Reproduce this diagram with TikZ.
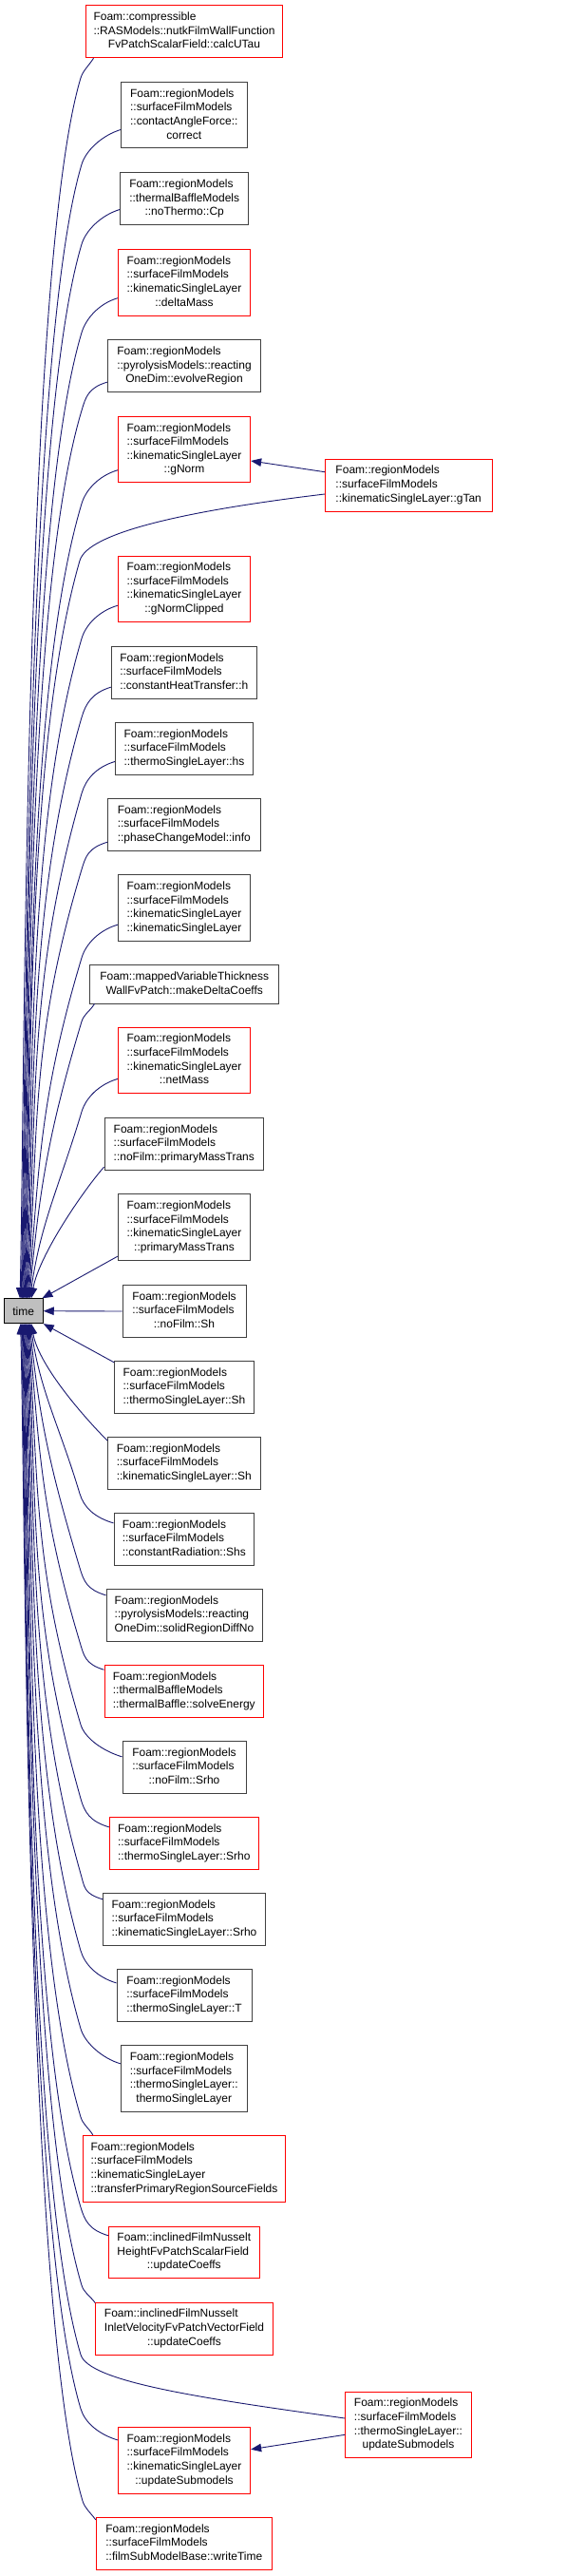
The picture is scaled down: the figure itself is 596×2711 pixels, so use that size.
\documentclass[tikz,border=0pt]{standalone}
\usepackage{fontspec}
\setmainfont{Liberation Sans}
\usetikzlibrary{calc,arrows.meta}
\definecolor{edgecol}{HTML}{191970}
\definecolor{boxgray}{HTML}{404040}
\definecolor{timefill}{HTML}{BFBFBF}
\newcommand{\lbl}[2]{\begin{tabular}{@{}l@{}}#1\\\multicolumn{1}{@{}c@{}}{#2}\end{tabular}}
% #1 start, #2 bend, #3 end, #4 start control offset, #5 bend control distance
\newcommand{\conn}[5]{%
  \draw[cl] let \p1=#1, \p2=#2, \p3=#3,
     \n5={min(0.4*abs(\y3-\y2),200pt)},
     \n6={(\y3-\y2)/abs(\y3-\y2)},
     \n1={max(\x3,\x2-0.3*\n5)},
     \n2={\y2+\n6*\n5},
     \n3={\y3-\n6*\n5},
     \n7={\x3+0.5*(\x2-\x3)*\n5/abs(\y3-\y2)},
     \n4={veclen(\n1-\x2,\n2-\y2)} in
   (\p1) .. controls ($(\p1)+#4$) and ({\x2-#5*(\n1-\x2)/\n4},{\y2-#5*(\n2-\y2)/\n4}) .. (\p2)
   .. controls (\n1,\n2) and (\n7,\n3) .. (\p3);}
\tikzset{
  box/.style={draw=boxgray, line width=0.9pt, fill=white, inner sep=0pt, font=\fontsize{12}{14.6}\selectfont},
  rbox/.style={box, draw=red},
  cl/.style={color=edgecol, line width=0.9pt, -{Triangle[length=11pt,width=8.5pt]}},
}
\begin{document}
\begin{tikzpicture}[x=1pt,y=1pt]
\fill[white] (0,0) rectangle (596,-2711);
\useasboundingbox (0,0) rectangle (596,-2711);

\def\FR{Foam::regionModels}
\def\SF{::surfaceFilmModels}
% nodes
\node[rbox, minimum width=206.6pt, minimum height=55pt] (n1) at (194,-33.2) {\lbl{Foam::compressible\\::RASModels::nutkFilmWallFunction}{FvPatchScalarField::calcUTau}};
\node[box, minimum width=132.3pt, minimum height=69pt] (n2) at (193.8,-121.2) {\lbl{\FR\\\SF\\::contactAngleForce::}{correct}};
\node[box, minimum width=135pt, minimum height=55pt] (n3) at (194.2,-209.2) {\lbl{\FR\\::thermalBaffleModels}{::noThermo::Cp}};
\node[rbox, minimum width=139.4pt, minimum height=69.3pt] (n4) at (194,-297.3) {\lbl{\FR\\\SF\\::kinematicSingleLayer}{::deltaMass}};
\node[box, minimum width=161.4pt, minimum height=55pt] (n5) at (194,-385.2) {\lbl{\FR\\::pyrolysisModels::reacting}{OneDim::evolveRegion}};
\node[rbox, minimum width=139.4pt, minimum height=69.4pt] (n6) at (194,-473) {\lbl{\FR\\\SF\\::kinematicSingleLayer}{::gNorm}};
\node[rbox, minimum width=175.7pt, minimum height=55pt] (n7) at (430.2,-510.5) {\lbl{\FR\\\SF}{::kinematicSingleLayer::gTan}};
\node[rbox, minimum width=139.4pt, minimum height=69.3pt] (n8) at (194,-619.7) {\lbl{\FR\\\SF\\::kinematicSingleLayer}{::gNormClipped}};
\node[box, minimum width=153pt, minimum height=55pt] (n9) at (193.8,-707.8) {\lbl{\FR\\\SF}{::constantHeatTransfer::h}};
\node[box, minimum width=145.4pt, minimum height=54.7pt] (n10) at (194,-787.7) {\lbl{\FR\\\SF}{::thermoSingleLayer::hs}};
\node[box, minimum width=160.3pt, minimum height=54.7pt] (n11) at (193.8,-867.7) {\lbl{\FR\\\SF}{::phaseChangeModel::info}};
\node[box, minimum width=139.4pt, minimum height=70pt] (n12) at (194,-955.7) {\lbl{\FR\\\SF\\::kinematicSingleLayer}{::kinematicSingleLayer}};
\node[box, minimum width=199pt, minimum height=40.3pt] (n13) at (194.2,-1035.8) {\lbl{Foam::mappedVariableThickness}{WallFvPatch::makeDeltaCoeffs}};
\node[rbox, minimum width=139.4pt, minimum height=69.7pt] (n14) at (194,-1115.8) {\lbl{\FR\\\SF\\::kinematicSingleLayer}{::netMass}};
\node[box, minimum width=167.7pt, minimum height=55.4pt] (n15) at (193.8,-1204) {\lbl{\FR\\\SF}{::noFilm::primaryMassTrans}};
\node[box, minimum width=139.4pt, minimum height=70pt] (n16) at (194,-1291.7) {\lbl{\FR\\\SF\\::kinematicSingleLayer}{::primaryMassTrans}};
\node[box, minimum width=130pt, minimum height=54.6pt] (n17) at (194,-1380) {\lbl{\FR\\\SF}{::noFilm::Sh}};
\node[box, draw=black, fill=timefill, minimum width=41.3pt, minimum height=26pt] (time) at (24.65,-1379.7) {time};
\node[box, minimum width=146.6pt, minimum height=55pt] (n18) at (194,-1459.8) {\lbl{\FR\\\SF}{::thermoSingleLayer::Sh}};
\node[box, minimum width=160.3pt, minimum height=54.6pt] (n19) at (193.8,-1540) {\lbl{\FR\\\SF}{::kinematicSingleLayer::Sh}};
\node[box, minimum width=147.7pt, minimum height=54.7pt] (n20) at (193.8,-1619.7) {\lbl{\FR\\\SF}{::constantRadiation::Shs}};
\node[box, minimum width=164pt, minimum height=55pt] (n21) at (194,-1699.8) {\lbl{\FR\\::pyrolysisModels::reacting}{OneDim::solidRegionDiffNo}};
\node[rbox, minimum width=167.7pt, minimum height=55pt] (n22) at (193.8,-1779.8) {\lbl{\FR\\::thermalBaffleModels}{::thermalBaffle::solveEnergy}};
\node[box, minimum width=130pt, minimum height=55pt] (n23) at (194,-1859.8) {\lbl{\FR\\\SF}{::noFilm::Srho}};
\node[rbox, minimum width=157pt, minimum height=55pt] (n24) at (193.8,-1939.8) {\lbl{\FR\\\SF}{::thermoSingleLayer::Srho}};
\node[box, minimum width=170.6pt, minimum height=55pt] (n25) at (194,-2019.8) {\lbl{\FR\\\SF}{::kinematicSingleLayer::Srho}};
\node[box, minimum width=142pt, minimum height=54.7pt] (n26) at (194,-2099.7) {\lbl{\FR\\\SF}{::thermoSingleLayer::T}};
\node[box, minimum width=133pt, minimum height=70pt] (n27) at (193.8,-2187.7) {\lbl{\FR\\\SF\\::thermoSingleLayer::}{thermoSingleLayer}};
\node[rbox, minimum width=213.4pt, minimum height=70pt] (n28) at (194,-2282.3) {\lbl{\FR\\\SF\\::kinematicSingleLayer}{::transferPrimaryRegionSourceFields}};
\node[rbox, minimum width=158.3pt, minimum height=54.7pt] (n29) at (193.8,-2370.3) {\lbl{Foam::inclinedFilmNusselt\\HeightFvPatchScalarField}{::updateCoeffs}};
\node[rbox, minimum width=186.6pt, minimum height=55pt] (n30) at (194,-2450.5) {\lbl{Foam::inclinedFilmNusselt\\InletVelocityFvPatchVectorField}{::updateCoeffs}};
\node[rbox, minimum width=132.6pt, minimum height=69.7pt] (n31) at (430,-2551.8) {\lbl{\FR\\\SF\\::thermoSingleLayer::}{updateSubmodels}};
\node[rbox, minimum width=139.4pt, minimum height=69.7pt] (n32) at (194,-2589.2) {\lbl{\FR\\\SF\\::kinematicSingleLayer}{::updateSubmodels}};
\node[rbox, minimum width=185pt, minimum height=55pt] (n33) at (193.8,-2676.8) {\lbl{\FR\\\SF}{::filmSubModelBase::writeTime}};

% connectors into time from above
\conn{($(n1.south west)+(8.3,0)$)}{(85,-82)}{([xshift=-3.65pt]time.north)}{(-5,-8)}{8}
\conn{($(n2.south west)+(0,19.7)$)}{(86,-173)}{([xshift=-2.65pt]time.north)}{(-20,-6)}{15}
\conn{($(n3.south west)+(0,16.7)$)}{(86,-257)}{([xshift=-1.85pt]time.north)}{(-20,-6)}{15}
\conn{($(n4.south west)+(0,18.7)$)}{(86,-350)}{([xshift=-1.05pt]time.north)}{(-20,-6)}{15}
\conn{($(n5.south west)+(0,11)$)}{(86,-432)}{([xshift=-0.25pt]time.north)}{(-20,-6)}{15}
\conn{($(n6.south west)+(0,13.4)$)}{(86,-530)}{([xshift=0.55pt]time.north)}{(-20,-6)}{15}
\conn{([yshift=-9.5pt]n7.west)}{(84,-590)}{([xshift=1.35pt]time.north)}{(-150,-18)}{30}
\conn{($(n8.south west)+(0,17.6)$)}{(86,-672)}{([xshift=2.15pt]time.north)}{(-20,-6)}{15}
\conn{($(n9.south west)+(0,12.6)$)}{(86,-755)}{([xshift=2.95pt]time.north)}{(-20,-6)}{15}
\conn{($(n10.south west)+(0,14)$)}{(86,-835)}{([xshift=3.75pt]time.north)}{(-20,-6)}{15}
\conn{($(n11.south west)+(0,9.3)$)}{(86,-915)}{([xshift=4.55pt]time.north)}{(-20,-6)}{15}
\conn{($(n12.south west)+(0,18)$)}{(86,-1008)}{([xshift=5.35pt]time.north)}{(-20,-6)}{15}
\conn{($(n13.south west)+(5.3,0)$)}{(86,-1075)}{([xshift=6.15pt]time.north)}{(-5,-8)}{8}
\conn{($(n14.south west)+(0,15.7)$)}{(86,-1170)}{([xshift=6.95pt]time.north)}{(-20,-6)}{15}
\draw[cl] ($(n15.south west)+(0,4)$) .. controls +(-22,-25) and +(8,45) .. ([xshift=8.35pt]time.north);
\draw[cl] ($(n16.south west)+(0,5)$) -- ([xshift=-1.3pt]time.north east);
\draw[cl] ([yshift=13.8pt]n7.west) -- ([yshift=-12pt]n6.east);

% level and below
\draw[cl] (n17.west) -- (time.east);
\draw[cl] ($(n18.north west)+(0,-2)$) -- (time.south east);
\draw[cl] ($(n19.north west)+(0,-4)$) .. controls +(-22,22) and +(8,-45) .. ([xshift=8.35pt]time.south);
\conn{($(n20.north west)+(0,-11)$)}{(84,-1572)}{([xshift=7.35pt]time.south)}{(-20,6)}{15}
\conn{($(n21.north west)+(0,-7)$)}{(84,-1650)}{([xshift=6.55pt]time.south)}{(-20,6)}{15}
\conn{($(n22.north west)+(0,-5.4)$)}{(84,-1728)}{([xshift=5.75pt]time.south)}{(-20,6)}{15}
\conn{($(n23.north west)+(0,-17)$)}{(85,-1815)}{([xshift=4.95pt]time.south)}{(-20,6)}{15}
\conn{($(n24.north west)+(0,-11)$)}{(85,-1893)}{([xshift=4.15pt]time.south)}{(-20,6)}{15}
\conn{($(n25.north west)+(0,-7)$)}{(85,-1972)}{([xshift=3.35pt]time.south)}{(-20,6)}{15}
\conn{($(n26.north west)+(0,-15)$)}{(85,-2053)}{([xshift=2.55pt]time.south)}{(-20,6)}{15}
\conn{($(n27.north west)+(0,-19.6)$)}{(85,-2135)}{([xshift=1.75pt]time.south)}{(-20,6)}{15}
\conn{($(n28.north west)+(11,0)$)}{(85,-2228)}{([xshift=0.95pt]time.south)}{(-5,8)}{8}
\conn{($(n29.north west)+(0,-10.3)$)}{(85,-2323)}{([xshift=0.15pt]time.south)}{(-20,6)}{15}
\conn{($(n30.north west)+(0,-1)$)}{(86,-2405)}{([xshift=-0.65pt]time.south)}{(-6,8)}{8}
\conn{([yshift=6.8pt]n31.west)}{(85,-2478)}{([xshift=-1.45pt]time.south)}{(-150,21)}{30}
\conn{($(n32.north west)+(0,-14)$)}{(85,-2535)}{([xshift=-2.25pt]time.south)}{(-20,6)}{15}
\conn{($(n33.north west)+(0,-3)$)}{(87,-2632)}{([xshift=-3.05pt]time.south)}{(-6,8)}{8}
\draw[cl] ([yshift=-10.5pt]n31.west) -- ([yshift=11.5pt]n32.east);
\end{tikzpicture}
\end{document}
